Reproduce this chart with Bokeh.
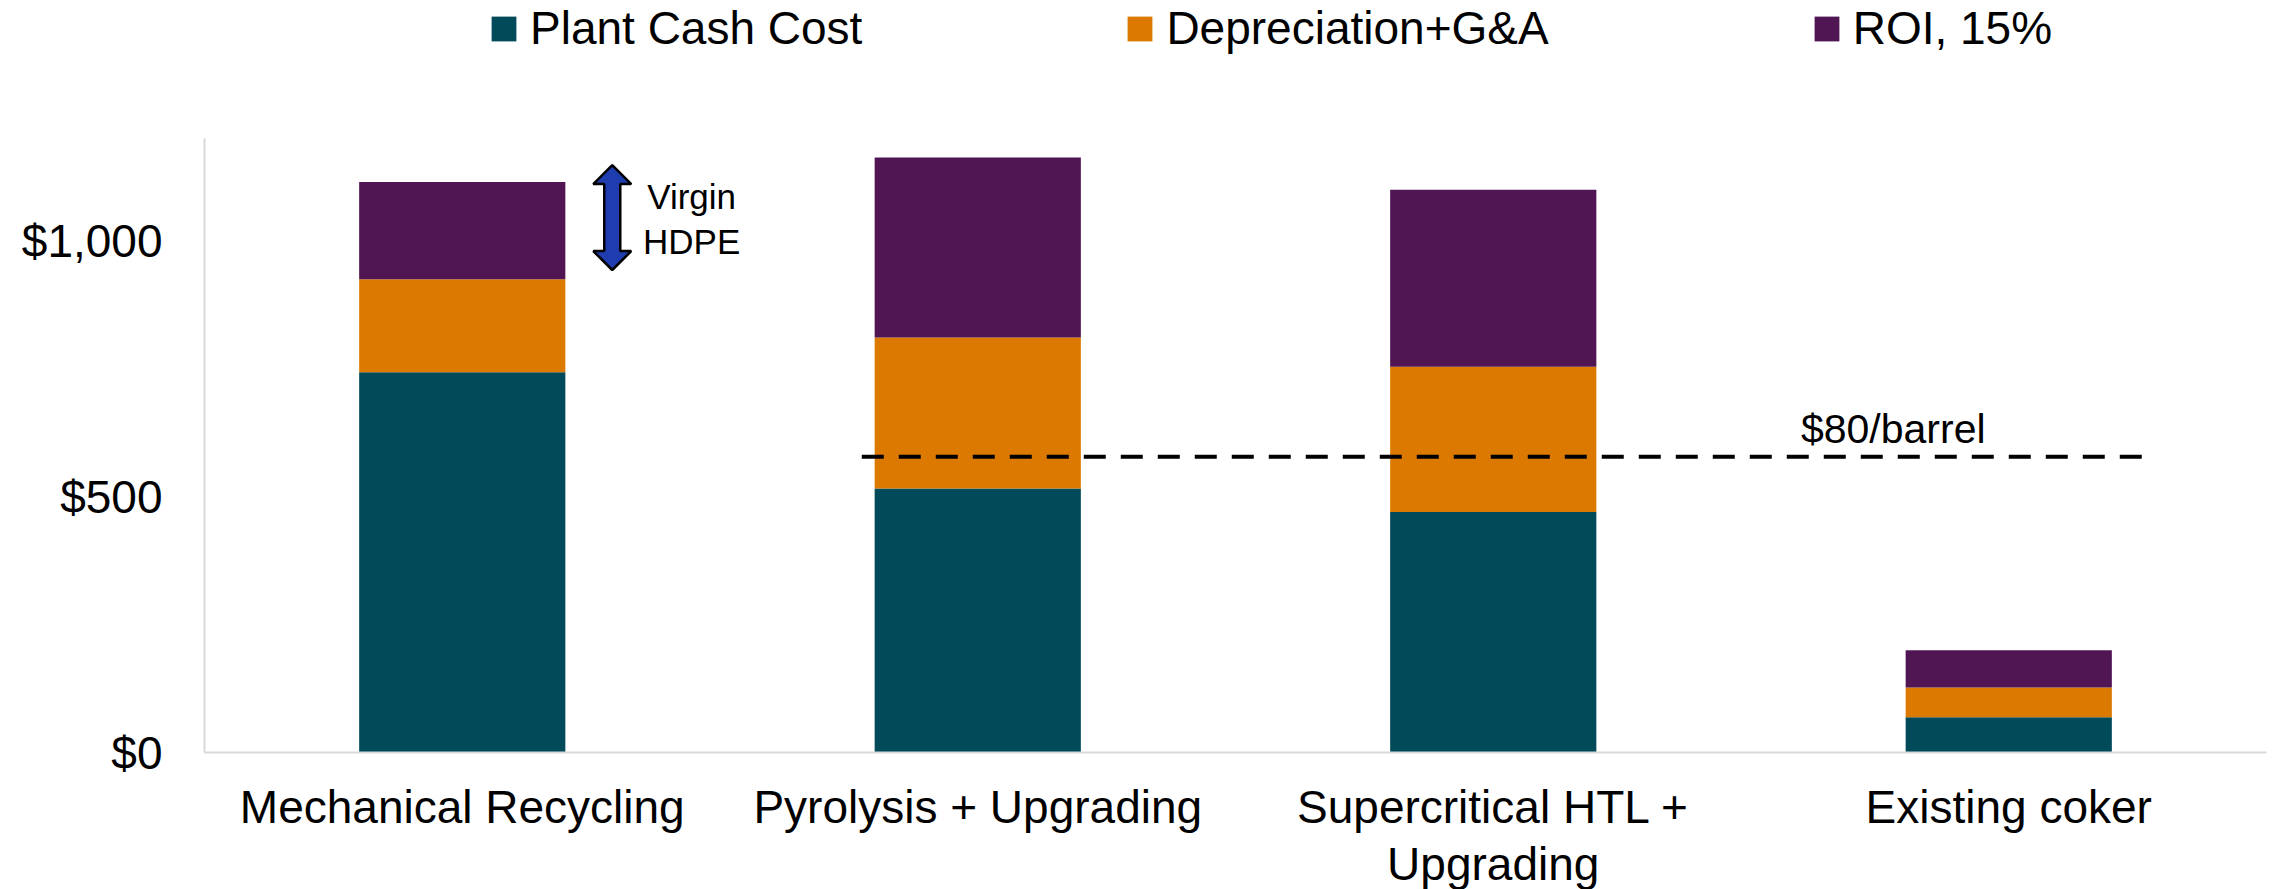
from bokeh.plotting import figure
from bokeh.models import (ColumnDataSource, Legend, LegendItem, FixedTicker,
                          NumeralTickFormatter, Range1d, Label)
from bokeh.layouts import column
from bokeh.embed import file_html
from bokeh.resources import INLINE

# ---- data ----
categories = ["Mechanical Recycling", "Pyrolysis + Upgrading",
              "Supercritical HTL +\nUpgrading", "Existing coker"]
plant_cash_cost = [743, 516, 470, 69]
depreciation_ga = [182, 295, 284, 58]
roi_15 = [190, 352, 346, 73]
series_names = ["Plant Cash Cost", "Depreciation+G&A", "ROI, 15%"]
colors = ["#014A5A", "#DC7900", "#501654"]
y_ticks = [0, 500, 1000]
barrel_value = 578            # $80/barrel reference level
barrel_label = "$80/barrel"
barrel_span = [1.275, 3.78]   # in category units
virgin_hdpe_low_high = [943, 1148]
virgin_label = ["Virgin", "HDPE"]

FONT = "Liberation Sans"
W = 2278
LEFT, RIGHT = 204, 12

x_pos = [i + 0.5 for i in range(len(categories))]
source = ColumnDataSource(dict(x=x_pos, pcc=plant_cash_cost,
                               dep=depreciation_ga, roi=roi_15))
x_range = Range1d(0, len(categories))

# ---------------- main chart ----------------
p = figure(width=W, height=642, output_backend="svg", toolbar_location=None,
           x_range=x_range, y_range=Range1d(0, 1200),
           min_border_left=LEFT, min_border_right=RIGHT, min_border_top=0,
           min_border_bottom=28)
p.outline_line_color = None
p.xgrid.visible = False
p.ygrid.visible = False

rs = p.vbar_stack(["pcc", "dep", "roi"], x="x", width=0.4, color=colors,
                  line_color=None, source=source)

# dashed $80/barrel line
p.line(x=barrel_span, y=[barrel_value, barrel_value], line_color="black",
       line_width=4, line_dash="22 15")
p.add_layout(Label(x=3.276, y=barrel_value, y_offset=28, text=barrel_label,
                   text_align="center", text_baseline="middle",
                   text_font=FONT, text_font_size="41px", text_color="black"))

# Virgin HDPE double arrow
xc = 0.791
lo, hi = virgin_hdpe_low_high
hw = 19 / 515.5
sw = 8 / 515.5
hl = 37
ax = [xc, xc + hw, xc + sw, xc + sw, xc + hw, xc, xc - hw, xc - sw, xc - sw, xc - hw]
ay = [hi, hi - hl, hi - hl, lo + hl, lo + hl, lo, lo + hl, lo + hl, hi - hl, hi - hl]
p.patch(ax, ay, fill_color="#1F3DAE", line_color="black", line_width=2.5)
for k, t in enumerate(virgin_label):
    p.add_layout(Label(x=0.945, y=hi, y_offset=-(31 + 45 * k), text=t,
                       text_align="center", text_baseline="middle",
                       text_font=FONT, text_font_size="35px", text_color="black"))

# axes
p.yaxis.ticker = FixedTicker(ticks=y_ticks)
p.yaxis.formatter = NumeralTickFormatter(format="$0,0")
p.yaxis.major_tick_line_color = None
p.yaxis.minor_tick_line_color = None
p.yaxis.major_tick_out = 0
p.yaxis.major_label_standoff = 42
p.yaxis.axis_line_color = "#D9D9D9"
p.yaxis.axis_line_width = 2
p.yaxis.major_label_text_font = FONT
p.yaxis.major_label_text_font_size = "46px"
p.yaxis.major_label_text_color = "black"

p.xaxis.ticker = FixedTicker(ticks=[])
p.xaxis.major_tick_line_color = None
p.xaxis.minor_tick_line_color = None
p.xaxis.major_tick_out = 0
p.xaxis.major_label_standoff = 0
p.xaxis.axis_line_color = "#D9D9D9"
p.xaxis.axis_line_width = 2

# ---------------- category labels strip ----------------
STRIP_H = 889 - 138 - 642
lx, ly, lt = [], [], []
for xi, cat in zip(x_pos, categories):
    for k, line in enumerate(cat.split("\n")):
        lx.append(xi)
        ly.append(STRIP_H - 26 - 57 * k)
        lt.append(line)
pl = figure(width=W, height=STRIP_H, output_backend="svg", toolbar_location=None,
            x_range=x_range, y_range=Range1d(0, STRIP_H),
            x_axis_type=None, y_axis_type=None,
            min_border_left=LEFT, min_border_right=RIGHT, min_border_top=0,
            min_border_bottom=0)
pl.outline_line_color = None
pl.xgrid.visible = False
pl.ygrid.visible = False
pl.text(x=lx, y=ly, text=lt, text_align="center", text_baseline="middle",
        text_font_size="46px", text_color="black",
        text_font={"value": FONT})

# ---------------- legend strip ----------------
lg = figure(width=W, height=138, output_backend="svg", toolbar_location=None,
            x_range=Range1d(0, 1), y_range=Range1d(0, 1),
            x_axis_type=None, y_axis_type=None,
            min_border_left=LEFT, min_border_right=RIGHT, min_border_top=0,
            min_border_bottom=0)
lg.outline_line_color = None
lg.xgrid.visible = False
lg.ygrid.visible = False
# legend proxies (zero-height bars, nothing visible is drawn)
dummy = [lg.vbar(x=[0.5], top=[0], bottom=[0], width=0.01, color=c, line_color=None)
         for c in colors]
legend = Legend(items=[LegendItem(label=n, renderers=[r]) for n, r in zip(series_names, dummy)],
                orientation="horizontal", location=(284, 83),
                border_line_color=None, background_fill_alpha=0,
                padding=0, margin=0, spacing=262, label_standoff=11,
                glyph_width=31, glyph_height=31,
                label_text_font=FONT, label_text_font_size="46px",
                label_text_color="black")
lg.add_layout(legend, "center")

layout = column(lg, p, pl, spacing=0)
open("out.html", "w").write(file_html(layout, INLINE))
